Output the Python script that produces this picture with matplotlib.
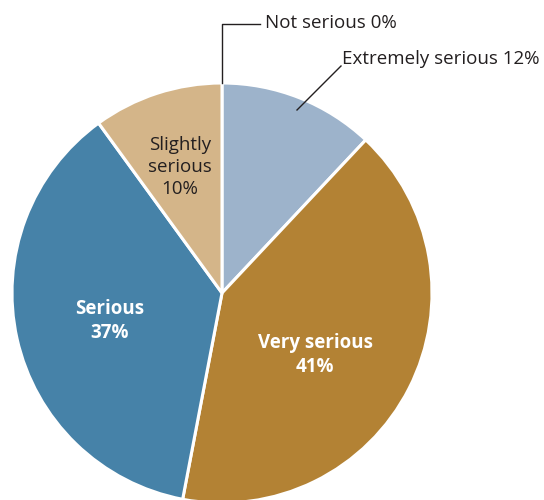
import numpy as np
import matplotlib.pyplot as plt

labels = ['Not serious', 'Extremely serious', 'Very serious', 'Serious', 'Slightly serious']
values = [0, 12, 41, 37, 10]
colors = ['#c9c9c9', '#9db3cb', '#b38234', '#4682a8', '#d4b589']

plt.rcParams['font.family'] = ['Open Sans', 'DejaVu Sans']

fig = plt.figure(figsize=(5.44, 5.0), dpi=100)
ax = fig.add_axes([0, 0, 1, 1])

cx, cy, r = 222, 207, 210
ax.pie(values, colors=colors, startangle=90, counterclock=False,
       center=(cx, cy), radius=r, frame=True,
       wedgeprops=dict(edgecolor='white', linewidth=2.2))
ax.set_xlim(0, 544)
ax.set_ylim(0, 500)
ax.set_aspect('equal')
ax.axis('off')

txt = '#231f20'
fs = 13.5
# leader lines
ax.plot([cx, cx, 260], [cy + r, 476, 476], color=txt, lw=1)
ax.plot([297, 341], [390, 434], color=txt, lw=1)
ax.text(265, 477, f'{labels[0]} {values[0]}%', fontsize=fs, color=txt, va='center')
ax.text(342, 441, f'{labels[1]} {values[1]}%', fontsize=fs, color=txt, va='center')

ax.text(180, 333, f'Slightly\nserious\n{values[4]}%', fontsize=fs, color=txt,
        ha='center', va='center', linespacing=1.25)
ax.text(110, 179, f'{labels[3]}\n{values[3]}%', fontsize=fs, color='white',
        fontweight='bold', ha='center', va='center', linespacing=1.2)
ax.text(315, 145, f'{labels[2]}\n{values[2]}%', fontsize=fs, color='white',
        fontweight='bold', ha='center', va='center', linespacing=1.25)

fig.savefig('out.png', dpi=100)
